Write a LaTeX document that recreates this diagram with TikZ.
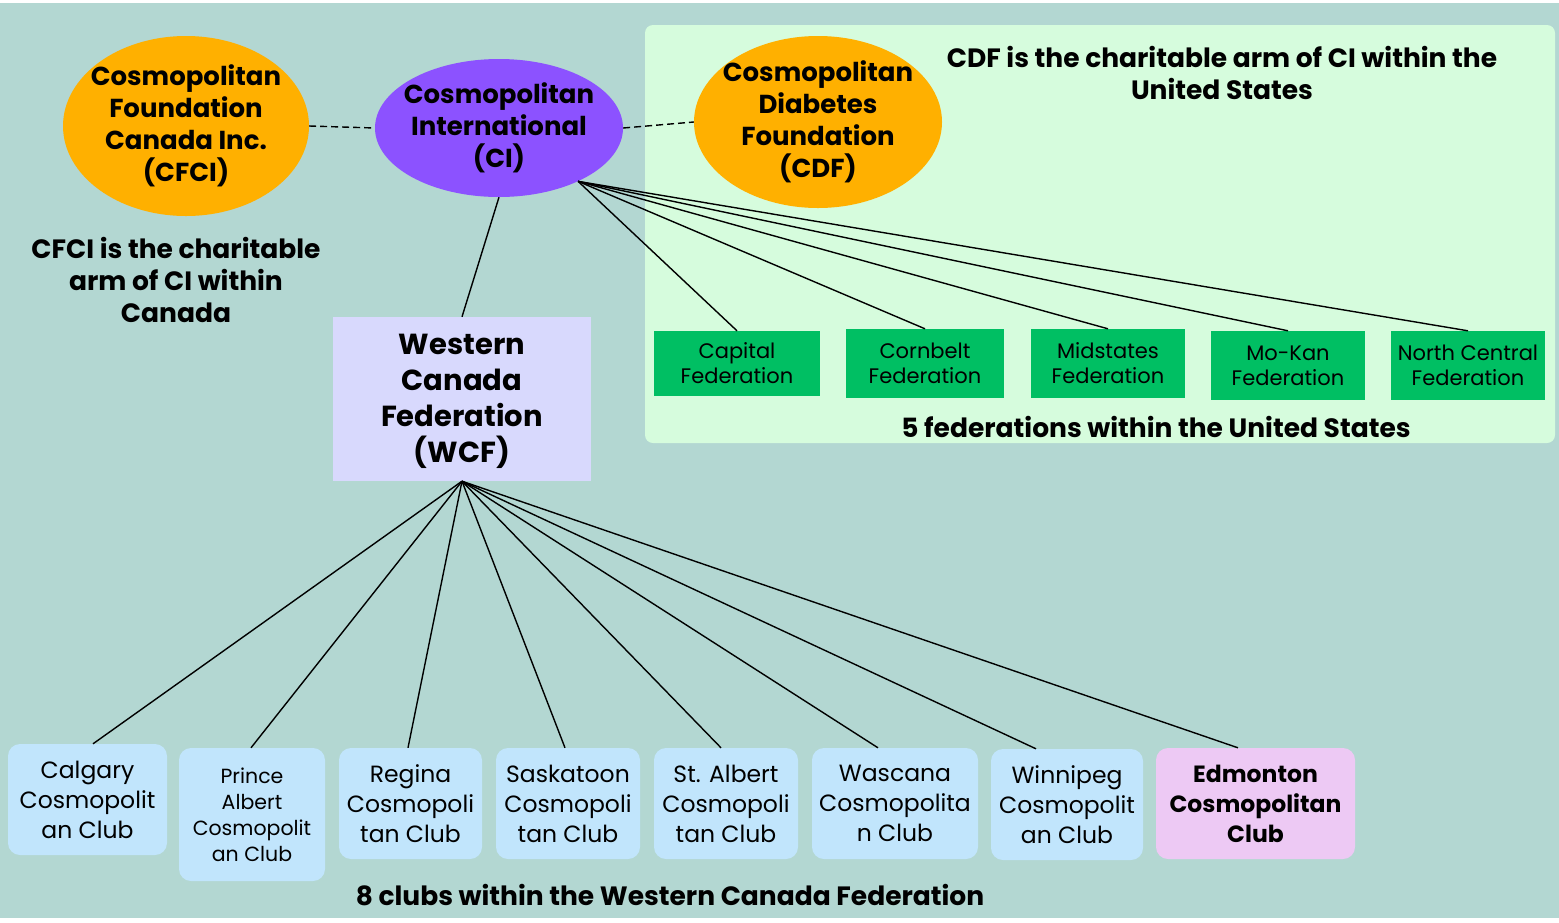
\documentclass[tikz,border=0pt]{standalone}
\usepackage{fontspec}
\setmainfont{Poppins}
\usetikzlibrary{shapes.geometric}

\definecolor{bgteal}{HTML}{B3D7D2}
\definecolor{panelgreen}{HTML}{D6FCDD}
\definecolor{foundorange}{HTML}{FFB000}
\definecolor{cipurple}{HTML}{8C52FF}
\definecolor{wcflav}{HTML}{D8D9FD}
\definecolor{fedgreen}{HTML}{00BF63}
\definecolor{clubblue}{HTML}{C1E5FC}
\definecolor{clubpink}{HTML}{EDC9F4}

\tikzset{
  orgellipse/.style={ellipse, inner sep=0pt},
  orgtext/.style={align=center, inner sep=0pt, font=\fontsize{26}{32}\selectfont\bfseries},
  fedbox/.style={rectangle, fill=fedgreen, inner sep=0pt, align=center,
    font=\fontsize{21}{25}\selectfont},
  clubbox/.style={rectangle, rounded corners=12pt, fill=clubblue, inner sep=0pt,
    align=center, font=\fontsize{23.5}{30}\selectfont},
  notetext/.style={align=center, inner sep=0pt, font=\fontsize{26.5}{32}\selectfont\bfseries},
  link/.style={line width=1.4pt, black},
}

\begin{document}
\begin{tikzpicture}[x=1pt,y=-1pt]
  % canvas
  \fill[white] (0,0) rectangle (1559,922);
  \fill[bgteal] (0,3) rectangle (1559,918);
  \useasboundingbox (0,0) rectangle (1559,922);
  % panel for the United States
  \fill[panelgreen, rounded corners=8pt] (645,25) rectangle (1555,443);

  % foundations and CI
  \node[orgellipse, fill=foundorange, minimum width=246pt, minimum height=180pt] (cfci) at (186,126) {};
  \node[orgtext] (cfcitext) at (cfci.center) {Cosmopolitan\\Foundation\\Canada Inc.\\(CFCI)};
  \node[orgellipse, fill=cipurple, minimum width=248pt, minimum height=138pt] (ci) at (499,128) {};
  \node[orgtext] (citext) at (ci.center) {Cosmopolitan\\International\\(CI)};
  \node[orgellipse, fill=foundorange, minimum width=248pt, minimum height=172pt] (cdf) at (818,122) {};
  \node[orgtext] (cdftext) at (cdf.center) {Cosmopolitan\\Diabetes\\Foundation\\(CDF)};

  \draw[link, dash pattern=on 7pt off 4pt] (cfci.east) -- (ci.west);
  \draw[link, dash pattern=on 7pt off 4pt] (ci.east) -- (cdf.west);

  % notes
  \node[notetext] (cfcinote) at (176,280) {CFCI is the charitable\\arm of CI within\\Canada};
  \node[notetext] (cdfnote) at (1222,73) {CDF is the charitable arm of CI within the\\United States};

  % Western Canada Federation
  \node[rectangle, fill=wcflav, minimum width=258pt, minimum height=164pt, inner sep=0pt] (wcf) at (462,399) {};
  \node[align=center, inner sep=0pt, font=\fontsize{29}{36}\selectfont\bfseries] (wcftext) at (462,401)
    {Western\\Canada\\Federation\\(WCF)};
  \draw[link] (ci.south) -- (wcf.north);

  % US federations
  \node[fedbox, minimum width=166pt, minimum height=65pt] (cap) at (737,363.5) {Capital\\Federation};
  \node[fedbox, minimum width=158pt, minimum height=69pt] (corn) at (925,363.5) {Cornbelt\\Federation};
  \node[fedbox, minimum width=154pt, minimum height=69pt] (mid) at (1108,363.5) {Midstates\\Federation};
  \node[fedbox, minimum width=154pt, minimum height=69pt] (mokan) at (1288,365.5) {Mo-Kan\\Federation};
  \node[fedbox, minimum width=154pt, minimum height=69pt] (nc) at (1468,365.5) {North Central\\Federation};
  \foreach \f in {cap,corn,mid,mokan,nc}
    \draw[link] (ci.-34) -- (\f.north);
  \node[notetext] (usnote) at (1156,427) {5 federations within the United States};

  % clubs of the WCF
  \node[clubbox, minimum width=159pt, minimum height=111pt] (calg) at (87.5,799.5) {Calgary\\Cosmopolit\\an Club};
  \node[clubbox, minimum width=146pt, minimum height=133pt, font=\fontsize{20.5}{26}\selectfont] (palb) at (252,814.5)
    {Prince\\Albert\\Cosmopolit\\an Club};
  \node[clubbox, minimum width=143pt, minimum height=111pt] (reg) at (410.5,803.5) {Regina\\Cosmopoli\\tan Club};
  \node[clubbox, minimum width=144pt, minimum height=111pt] (sask) at (568,803.5) {Saskatoon\\Cosmopoli\\tan Club};
  \node[clubbox, minimum width=144pt, minimum height=111pt] (stalb) at (726,803.5) {St. Albert\\Cosmopoli\\tan Club};
  \node[clubbox, minimum width=166pt, minimum height=111pt] (wasc) at (895,803.5) {Wascana\\Cosmopolita\\n Club};
  \node[clubbox, minimum width=152pt, minimum height=111pt] (winn) at (1067,804.5) {Winnipeg\\Cosmopolit\\an Club};
  \node[clubbox, fill=clubpink, minimum width=199pt, minimum height=111pt, font=\fontsize{23.5}{30}\selectfont\bfseries]
    (edm) at (1255.5,803.5) {Edmonton\\Cosmopolitan\\Club};
  \foreach \c/\dx in {calg/5.5,palb/-1,reg/-2.5,sask/-3,stalb/-5,wasc/-17,winn/-31,edm/-17.5}
    \draw[link] (wcf.south) -- ([xshift=\dx pt]\c.north);
  \node[notetext] (wcfnote) at (670,895) {8 clubs within the Western Canada Federation};
\end{tikzpicture}
\end{document}
